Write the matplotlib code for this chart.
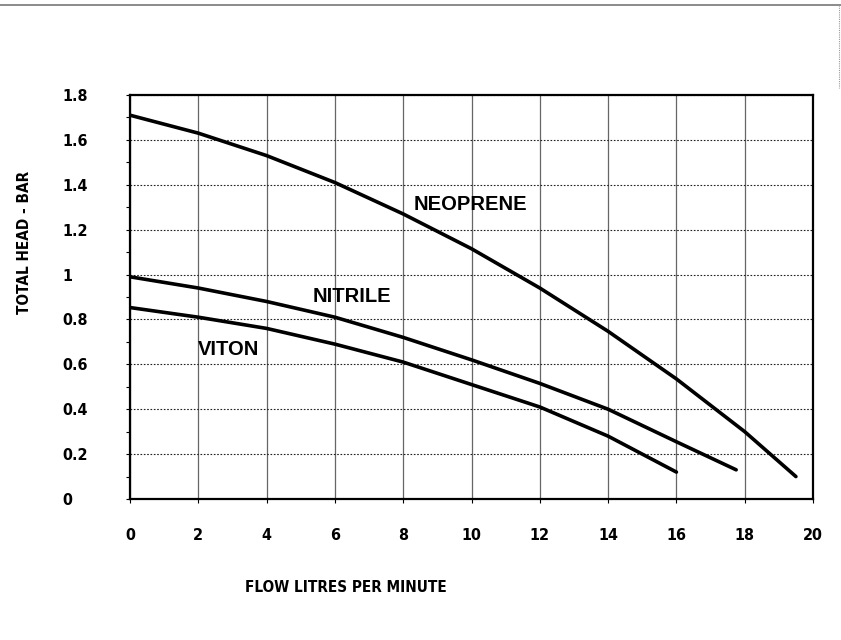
import matplotlib
matplotlib.use("Agg")
import matplotlib.pyplot as plt
from matplotlib import font_manager
from matplotlib.lines import Line2D
import numpy as np

# pump curves
neo_flow = [0, 2, 4, 6, 8, 10, 12, 14, 16, 18, 19.5]
neo_head = [1.71, 1.63, 1.53, 1.41, 1.27, 1.115, 0.94, 0.747, 0.535, 0.30, 0.10]

nit_flow = [0, 2, 4, 6, 8, 10, 12, 14, 16, 17.75]
nit_head = [0.99, 0.94, 0.88, 0.81, 0.72, 0.62, 0.515, 0.40, 0.255, 0.13]

vit_flow = [0, 2, 4, 6, 8, 10, 12, 14, 16]
vit_head = [0.853, 0.81, 0.76, 0.69, 0.61, 0.51, 0.41, 0.28, 0.12]

x_ticks = [0, 2, 4, 6, 8, 10, 12, 14, 16, 18, 20]
y_ticks = [0, 0.2, 0.4, 0.6, 0.8, 1.0, 1.2, 1.4, 1.6, 1.8]
y_labels = ["0", "0.2", "0.4", "0.6", "0.8", "1", "1.2", "1.4", "1.6", "1.8"]

# the axis text in the scan is a narrow bold face; use one if the box has it
found = [(f.name, f.stretch) for f in font_manager.fontManager.ttflist]
narrow_kw = None
for name, stretch in found:
    if name == "Liberation Sans Narrow":
        narrow_kw = dict(family=["Liberation Sans Narrow"], size=12.5)
        break
if narrow_kw is None:
    for name, stretch in found:
        if name == "DejaVu Sans" and stretch == "condensed":
            narrow_kw = dict(family=["DejaVu Sans"], stretch="condensed", size=11)
            break
if narrow_kw is None:
    narrow_kw = dict(family=["Liberation Sans"], size=11)
tick_size = narrow_kw["size"] + 0.5

wide = ["Liberation Sans", "DejaVu Sans"]

fig = plt.figure(figsize=(8.41, 6.4), dpi=100)
ax = fig.add_axes([130 / 841, 1 - 499 / 640, 683 / 841, 404 / 640])

# the curves
ax.plot(neo_flow, neo_head, color="black", linewidth=2.6, solid_capstyle="round")
ax.plot(nit_flow, nit_head, color="black", linewidth=2.6, solid_capstyle="round")
ax.plot(vit_flow, vit_head, color="black", linewidth=2.6, solid_capstyle="round")

# curve names
ax.text(9.96, 1.31, "NEOPRENE", family=wide, fontweight="bold", fontsize=14.5,
        ha="center", va="center")
ax.text(6.5, 0.90, "NITRILE", family=wide, fontweight="bold", fontsize=14.5,
        ha="center", va="center")
ax.text(2.9, 0.668, "VITON", family=wide, fontweight="bold", fontsize=14.5,
        ha="center", va="center")

ax.set_xlim(0, 20)
ax.set_ylim(0, 1.8)
ax.set_xticks(x_ticks)
ax.set_yticks(y_ticks)
ax.set_yticklabels(y_labels)
ax.set_yticks(np.arange(0.1, 1.8, 0.2), minor=True)

ax.tick_params(axis="x", length=3, width=0.8, pad=18)
ax.tick_params(axis="y", which="major", length=3, width=0.8, pad=46)
ax.tick_params(axis="y", which="minor", length=3, width=0.8)
for lab in ax.get_xticklabels() + ax.get_yticklabels():
    lab.set_family(narrow_kw["family"])
    lab.set_fontsize(tick_size)
    lab.set_fontweight("bold")
    if "stretch" in narrow_kw:
        lab.set_fontstretch(narrow_kw["stretch"])
for lab in ax.get_yticklabels():
    lab.set_horizontalalignment("left")

# scanned grid: vertical lines solid grey, horizontal ones dotted
ax.grid(axis="x", color="#666666", linewidth=0.9, linestyle="-")
ax.grid(axis="y", color="#222222", linewidth=0.8, linestyle=(0, (1.5, 1.5)))

for s in ax.spines.values():
    s.set_linewidth(1.6)
    s.set_color("black")

ax.set_xlabel("FLOW LITRES PER MINUTE", fontweight="bold", **narrow_kw)
ax.set_ylabel("TOTAL HEAD - BAR", fontweight="bold", **narrow_kw)
ax.xaxis.label.set_va("center")
ax.yaxis.label.set_va("center")
ax.xaxis.set_label_coords(0.316, -0.218)
ax.yaxis.set_label_coords(-0.155, 0.634)

# page edge from the scan
fig.add_artist(Line2D([0, 1], [1 - 5 / 640, 1 - 5 / 640], color="#777777", linewidth=1.2))
fig.add_artist(Line2D([1 - 2 / 841, 1 - 2 / 841], [1 - 5 / 640, 1 - 88 / 640],
                      color="#999999", linewidth=0.8, linestyle=(0, (1, 1))))

fig.savefig("out.png", dpi=100)
